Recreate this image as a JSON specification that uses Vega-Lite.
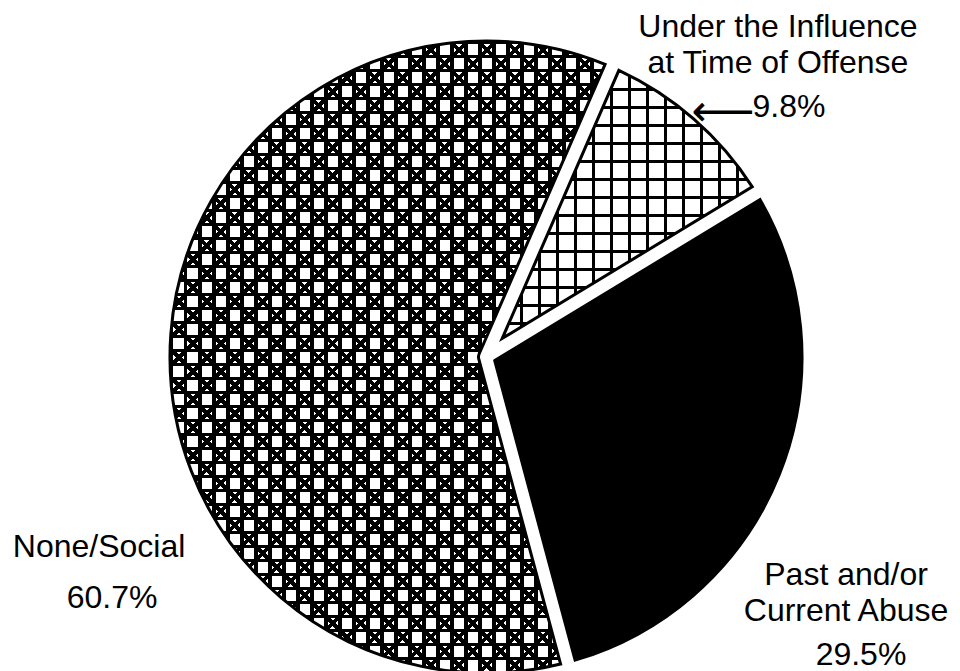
{
 "$schema": "https://vega.github.io/schema/vega-lite/v6.json",
 "width": 948, "height": 628,
 "autosize": "none",
 "padding": {"left": 12, "top": 43, "right": 0, "bottom": 0},
 "background": "white",
 "view": {"stroke": null},
 "data": {"values": [
   {"category": "Under the Influence\nat Time of Offense", "value": 9.8, "pct": "9.8%"},
   {"category": "Past and/or\nCurrent Abuse", "value": 29.5, "pct": "29.5%"},
   {"category": "None/Social", "value": 60.7, "pct": "60.7%"}
 ]},
 "encoding": {
   "theta": {"field": "value", "type": "quantitative", "stack": true, "scale": {"domain": [0, 100], "range": [0.4102, 6.6934]}},
   "order": {"field": "category", "sort": "descending"}
 },
 "layer": [
  {"mark": {"type": "arc", "radius": 316, "radius2": {"expr": "datum.value < 20 ? 24.75 : datum.value < 50 ? 9.4 : 7.5"}, "padAngle": 0.0475},
   "encoding": {"fill": {"condition": {"test": "datum.value > 20 && datum.value < 50", "value": "#000"}, "value": "#fff"}}},
  {"mark": {"type": "arc", "radius": 316, "radius2": {"expr": "datum.value < 20 ? 24.75 : datum.value < 50 ? 9.4 : 7.5"}, "padAngle": 0.0475},
   "encoding": {"fill": {"condition": [{"test": "datum.value < 20", "value": {"gradient": "linear", "x1": 0, "y1": 0, "x2": 1, "y2": 0, "stops": [
     {"offset":0,"color":"#000"},{"offset":0.012,"color":"#000"},{"offset":0.012,"color":"#0000"},
     {"offset":0.072,"color":"#0000"},{"offset":0.072,"color":"#000"},{"offset":0.084,"color":"#000"},{"offset":0.084,"color":"#0000"},
     {"offset":0.144,"color":"#0000"},{"offset":0.144,"color":"#000"},{"offset":0.156,"color":"#000"},{"offset":0.156,"color":"#0000"},
     {"offset":0.216,"color":"#0000"},{"offset":0.216,"color":"#000"},{"offset":0.228,"color":"#000"},{"offset":0.228,"color":"#0000"},
     {"offset":0.288,"color":"#0000"},{"offset":0.288,"color":"#000"},{"offset":0.3,"color":"#000"},{"offset":0.3,"color":"#0000"},
     {"offset":0.36,"color":"#0000"},{"offset":0.36,"color":"#000"},{"offset":0.372,"color":"#000"},{"offset":0.372,"color":"#0000"},
     {"offset":0.432,"color":"#0000"},{"offset":0.432,"color":"#000"},{"offset":0.444,"color":"#000"},{"offset":0.444,"color":"#0000"},
     {"offset":0.504,"color":"#0000"},{"offset":0.504,"color":"#000"},{"offset":0.516,"color":"#000"},{"offset":0.516,"color":"#0000"},
     {"offset":0.576,"color":"#0000"},{"offset":0.576,"color":"#000"},{"offset":0.588,"color":"#000"},{"offset":0.588,"color":"#0000"},
     {"offset":0.648,"color":"#0000"},{"offset":0.648,"color":"#000"},{"offset":0.66,"color":"#000"},{"offset":0.66,"color":"#0000"},
     {"offset":0.72,"color":"#0000"},{"offset":0.72,"color":"#000"},{"offset":0.732,"color":"#000"},{"offset":0.732,"color":"#0000"},
     {"offset":0.792,"color":"#0000"},{"offset":0.792,"color":"#000"},{"offset":0.804,"color":"#000"},{"offset":0.804,"color":"#0000"},
     {"offset":0.864,"color":"#0000"},{"offset":0.864,"color":"#000"},{"offset":0.876,"color":"#000"},{"offset":0.876,"color":"#0000"},
     {"offset":0.936,"color":"#0000"},{"offset":0.936,"color":"#000"},{"offset":0.948,"color":"#000"},{"offset":0.948,"color":"#0000"},
     {"offset":1,"color":"#0000"}]}},
     {"test": "datum.value > 50", "value": {"gradient": "linear", "x1": 0, "y1": 0, "x2": 1, "y2": 0, "stops": [
     {"offset":0,"color":"#000"},{"offset":0.008,"color":"#000"},{"offset":0.008,"color":"#0000"},
     {"offset":0.0322,"color":"#0000"},{"offset":0.0322,"color":"#000"},{"offset":0.0402,"color":"#000"},{"offset":0.0402,"color":"#0000"},
     {"offset":0.0644,"color":"#0000"},{"offset":0.0644,"color":"#000"},{"offset":0.0724,"color":"#000"},{"offset":0.0724,"color":"#0000"},
     {"offset":0.0966,"color":"#0000"},{"offset":0.0966,"color":"#000"},{"offset":0.1046,"color":"#000"},{"offset":0.1046,"color":"#0000"},
     {"offset":0.1288,"color":"#0000"},{"offset":0.1288,"color":"#000"},{"offset":0.1368,"color":"#000"},{"offset":0.1368,"color":"#0000"},
     {"offset":0.161,"color":"#0000"},{"offset":0.161,"color":"#000"},{"offset":0.169,"color":"#000"},{"offset":0.169,"color":"#0000"},
     {"offset":0.1932,"color":"#0000"},{"offset":0.1932,"color":"#000"},{"offset":0.2012,"color":"#000"},{"offset":0.2012,"color":"#0000"},
     {"offset":0.2254,"color":"#0000"},{"offset":0.2254,"color":"#000"},{"offset":0.2334,"color":"#000"},{"offset":0.2334,"color":"#0000"},
     {"offset":0.2576,"color":"#0000"},{"offset":0.2576,"color":"#000"},{"offset":0.2656,"color":"#000"},{"offset":0.2656,"color":"#0000"},
     {"offset":0.2898,"color":"#0000"},{"offset":0.2898,"color":"#000"},{"offset":0.2978,"color":"#000"},{"offset":0.2978,"color":"#0000"},
     {"offset":0.322,"color":"#0000"},{"offset":0.322,"color":"#000"},{"offset":0.33,"color":"#000"},{"offset":0.33,"color":"#0000"},
     {"offset":0.3542,"color":"#0000"},{"offset":0.3542,"color":"#000"},{"offset":0.3622,"color":"#000"},{"offset":0.3622,"color":"#0000"},
     {"offset":0.3864,"color":"#0000"},{"offset":0.3864,"color":"#000"},{"offset":0.3944,"color":"#000"},{"offset":0.3944,"color":"#0000"},
     {"offset":0.4186,"color":"#0000"},{"offset":0.4186,"color":"#000"},{"offset":0.4266,"color":"#000"},{"offset":0.4266,"color":"#0000"},
     {"offset":0.4508,"color":"#0000"},{"offset":0.4508,"color":"#000"},{"offset":0.4588,"color":"#000"},{"offset":0.4588,"color":"#0000"},
     {"offset":0.483,"color":"#0000"},{"offset":0.483,"color":"#000"},{"offset":0.491,"color":"#000"},{"offset":0.491,"color":"#0000"},
     {"offset":0.5152,"color":"#0000"},{"offset":0.5152,"color":"#000"},{"offset":0.5232,"color":"#000"},{"offset":0.5232,"color":"#0000"},
     {"offset":0.5474,"color":"#0000"},{"offset":0.5474,"color":"#000"},{"offset":0.5554,"color":"#000"},{"offset":0.5554,"color":"#0000"},
     {"offset":0.5796,"color":"#0000"},{"offset":0.5796,"color":"#000"},{"offset":0.5876,"color":"#000"},{"offset":0.5876,"color":"#0000"},
     {"offset":0.6118,"color":"#0000"},{"offset":0.6118,"color":"#000"},{"offset":0.6198,"color":"#000"},{"offset":0.6198,"color":"#0000"},
     {"offset":0.644,"color":"#0000"},{"offset":0.644,"color":"#000"},{"offset":0.652,"color":"#000"},{"offset":0.652,"color":"#0000"},
     {"offset":0.6762,"color":"#0000"},{"offset":0.6762,"color":"#000"},{"offset":0.6842,"color":"#000"},{"offset":0.6842,"color":"#0000"},
     {"offset":0.7084,"color":"#0000"},{"offset":0.7084,"color":"#000"},{"offset":0.7164,"color":"#000"},{"offset":0.7164,"color":"#0000"},
     {"offset":0.7406,"color":"#0000"},{"offset":0.7406,"color":"#000"},{"offset":0.7486,"color":"#000"},{"offset":0.7486,"color":"#0000"},
     {"offset":0.7728,"color":"#0000"},{"offset":0.7728,"color":"#000"},{"offset":0.7808,"color":"#000"},{"offset":0.7808,"color":"#0000"},
     {"offset":0.805,"color":"#0000"},{"offset":0.805,"color":"#000"},{"offset":0.813,"color":"#000"},{"offset":0.813,"color":"#0000"},
     {"offset":0.8372,"color":"#0000"},{"offset":0.8372,"color":"#000"},{"offset":0.8452,"color":"#000"},{"offset":0.8452,"color":"#0000"},
     {"offset":0.8694,"color":"#0000"},{"offset":0.8694,"color":"#000"},{"offset":0.8774,"color":"#000"},{"offset":0.8774,"color":"#0000"},
     {"offset":0.9016,"color":"#0000"},{"offset":0.9016,"color":"#000"},{"offset":0.9096,"color":"#000"},{"offset":0.9096,"color":"#0000"},
     {"offset":0.9338,"color":"#0000"},{"offset":0.9338,"color":"#000"},{"offset":0.9418,"color":"#000"},{"offset":0.9418,"color":"#0000"},
     {"offset":0.966,"color":"#0000"},{"offset":0.966,"color":"#000"},{"offset":0.974,"color":"#000"},{"offset":0.974,"color":"#0000"},
     {"offset":0.9982,"color":"#0000"},{"offset":0.9982,"color":"#000"},{"offset":1,"color":"#000"}]}}], "value": "transparent"}}},
  {"mark": {"type": "arc", "radius": 316, "radius2": {"expr": "datum.value < 20 ? 24.75 : datum.value < 50 ? 9.4 : 7.5"}, "padAngle": 0.0475},
   "encoding": {"fill": {"condition": [{"test": "datum.value < 20", "value": {"gradient": "linear", "x1": 0, "y1": 0, "x2": 0, "y2": 1, "stops": [
     {"offset":0,"color":"#000"},{"offset":0.0112,"color":"#000"},{"offset":0.0112,"color":"#0000"},
     {"offset":0.0671,"color":"#0000"},{"offset":0.0671,"color":"#000"},{"offset":0.0783,"color":"#000"},{"offset":0.0783,"color":"#0000"},
     {"offset":0.1343,"color":"#0000"},{"offset":0.1343,"color":"#000"},{"offset":0.1455,"color":"#000"},{"offset":0.1455,"color":"#0000"},
     {"offset":0.2014,"color":"#0000"},{"offset":0.2014,"color":"#000"},{"offset":0.2126,"color":"#000"},{"offset":0.2126,"color":"#0000"},
     {"offset":0.2686,"color":"#0000"},{"offset":0.2686,"color":"#000"},{"offset":0.2798,"color":"#000"},{"offset":0.2798,"color":"#0000"},
     {"offset":0.3357,"color":"#0000"},{"offset":0.3357,"color":"#000"},{"offset":0.3469,"color":"#000"},{"offset":0.3469,"color":"#0000"},
     {"offset":0.4028,"color":"#0000"},{"offset":0.4028,"color":"#000"},{"offset":0.414,"color":"#000"},{"offset":0.414,"color":"#0000"},
     {"offset":0.47,"color":"#0000"},{"offset":0.47,"color":"#000"},{"offset":0.4812,"color":"#000"},{"offset":0.4812,"color":"#0000"},
     {"offset":0.5371,"color":"#0000"},{"offset":0.5371,"color":"#000"},{"offset":0.5483,"color":"#000"},{"offset":0.5483,"color":"#0000"},
     {"offset":0.6043,"color":"#0000"},{"offset":0.6043,"color":"#000"},{"offset":0.6155,"color":"#000"},{"offset":0.6155,"color":"#0000"},
     {"offset":0.6714,"color":"#0000"},{"offset":0.6714,"color":"#000"},{"offset":0.6826,"color":"#000"},{"offset":0.6826,"color":"#0000"},
     {"offset":0.7385,"color":"#0000"},{"offset":0.7385,"color":"#000"},{"offset":0.7497,"color":"#000"},{"offset":0.7497,"color":"#0000"},
     {"offset":0.8057,"color":"#0000"},{"offset":0.8057,"color":"#000"},{"offset":0.8169,"color":"#000"},{"offset":0.8169,"color":"#0000"},
     {"offset":0.8728,"color":"#0000"},{"offset":0.8728,"color":"#000"},{"offset":0.884,"color":"#000"},{"offset":0.884,"color":"#0000"},
     {"offset":0.94,"color":"#0000"},{"offset":0.94,"color":"#000"},{"offset":0.9512,"color":"#000"},{"offset":0.9512,"color":"#0000"},
     {"offset":1,"color":"#0000"}]}},
     {"test": "datum.value > 50", "value": {"gradient": "linear", "x1": 0, "y1": 0, "x2": 0, "y2": 1, "stops": [
     {"offset":0,"color":"#000"},{"offset":0.0055,"color":"#000"},{"offset":0.0055,"color":"#0000"},
     {"offset":0.02215,"color":"#0000"},{"offset":0.02215,"color":"#000"},{"offset":0.02765,"color":"#000"},{"offset":0.02765,"color":"#0000"},
     {"offset":0.0443,"color":"#0000"},{"offset":0.0443,"color":"#000"},{"offset":0.0498,"color":"#000"},{"offset":0.0498,"color":"#0000"},
     {"offset":0.06645,"color":"#0000"},{"offset":0.06645,"color":"#000"},{"offset":0.07195,"color":"#000"},{"offset":0.07195,"color":"#0000"},
     {"offset":0.0886,"color":"#0000"},{"offset":0.0886,"color":"#000"},{"offset":0.0941,"color":"#000"},{"offset":0.0941,"color":"#0000"},
     {"offset":0.11075,"color":"#0000"},{"offset":0.11075,"color":"#000"},{"offset":0.11625,"color":"#000"},{"offset":0.11625,"color":"#0000"},
     {"offset":0.1329,"color":"#0000"},{"offset":0.1329,"color":"#000"},{"offset":0.1384,"color":"#000"},{"offset":0.1384,"color":"#0000"},
     {"offset":0.15505,"color":"#0000"},{"offset":0.15505,"color":"#000"},{"offset":0.16055,"color":"#000"},{"offset":0.16055,"color":"#0000"},
     {"offset":0.1772,"color":"#0000"},{"offset":0.1772,"color":"#000"},{"offset":0.1827,"color":"#000"},{"offset":0.1827,"color":"#0000"},
     {"offset":0.19935,"color":"#0000"},{"offset":0.19935,"color":"#000"},{"offset":0.20485,"color":"#000"},{"offset":0.20485,"color":"#0000"},
     {"offset":0.2215,"color":"#0000"},{"offset":0.2215,"color":"#000"},{"offset":0.227,"color":"#000"},{"offset":0.227,"color":"#0000"},
     {"offset":0.24365,"color":"#0000"},{"offset":0.24365,"color":"#000"},{"offset":0.24915,"color":"#000"},{"offset":0.24915,"color":"#0000"},
     {"offset":0.2658,"color":"#0000"},{"offset":0.2658,"color":"#000"},{"offset":0.2713,"color":"#000"},{"offset":0.2713,"color":"#0000"},
     {"offset":0.28795,"color":"#0000"},{"offset":0.28795,"color":"#000"},{"offset":0.29345,"color":"#000"},{"offset":0.29345,"color":"#0000"},
     {"offset":0.3101,"color":"#0000"},{"offset":0.3101,"color":"#000"},{"offset":0.3156,"color":"#000"},{"offset":0.3156,"color":"#0000"},
     {"offset":0.33225,"color":"#0000"},{"offset":0.33225,"color":"#000"},{"offset":0.33775,"color":"#000"},{"offset":0.33775,"color":"#0000"},
     {"offset":0.3544,"color":"#0000"},{"offset":0.3544,"color":"#000"},{"offset":0.3599,"color":"#000"},{"offset":0.3599,"color":"#0000"},
     {"offset":0.37655,"color":"#0000"},{"offset":0.37655,"color":"#000"},{"offset":0.38205,"color":"#000"},{"offset":0.38205,"color":"#0000"},
     {"offset":0.3987,"color":"#0000"},{"offset":0.3987,"color":"#000"},{"offset":0.4042,"color":"#000"},{"offset":0.4042,"color":"#0000"},
     {"offset":0.42085,"color":"#0000"},{"offset":0.42085,"color":"#000"},{"offset":0.42635,"color":"#000"},{"offset":0.42635,"color":"#0000"},
     {"offset":0.443,"color":"#0000"},{"offset":0.443,"color":"#000"},{"offset":0.4485,"color":"#000"},{"offset":0.4485,"color":"#0000"},
     {"offset":0.46515,"color":"#0000"},{"offset":0.46515,"color":"#000"},{"offset":0.47065,"color":"#000"},{"offset":0.47065,"color":"#0000"},
     {"offset":0.4873,"color":"#0000"},{"offset":0.4873,"color":"#000"},{"offset":0.4928,"color":"#000"},{"offset":0.4928,"color":"#0000"},
     {"offset":0.50945,"color":"#0000"},{"offset":0.50945,"color":"#000"},{"offset":0.51495,"color":"#000"},{"offset":0.51495,"color":"#0000"},
     {"offset":0.5316,"color":"#0000"},{"offset":0.5316,"color":"#000"},{"offset":0.5371,"color":"#000"},{"offset":0.5371,"color":"#0000"},
     {"offset":0.55375,"color":"#0000"},{"offset":0.55375,"color":"#000"},{"offset":0.55925,"color":"#000"},{"offset":0.55925,"color":"#0000"},
     {"offset":0.5759,"color":"#0000"},{"offset":0.5759,"color":"#000"},{"offset":0.5814,"color":"#000"},{"offset":0.5814,"color":"#0000"},
     {"offset":0.59805,"color":"#0000"},{"offset":0.59805,"color":"#000"},{"offset":0.60355,"color":"#000"},{"offset":0.60355,"color":"#0000"},
     {"offset":0.6202,"color":"#0000"},{"offset":0.6202,"color":"#000"},{"offset":0.6257,"color":"#000"},{"offset":0.6257,"color":"#0000"},
     {"offset":0.64235,"color":"#0000"},{"offset":0.64235,"color":"#000"},{"offset":0.64785,"color":"#000"},{"offset":0.64785,"color":"#0000"},
     {"offset":0.6645,"color":"#0000"},{"offset":0.6645,"color":"#000"},{"offset":0.67,"color":"#000"},{"offset":0.67,"color":"#0000"},
     {"offset":0.68665,"color":"#0000"},{"offset":0.68665,"color":"#000"},{"offset":0.69215,"color":"#000"},{"offset":0.69215,"color":"#0000"},
     {"offset":0.7088,"color":"#0000"},{"offset":0.7088,"color":"#000"},{"offset":0.7143,"color":"#000"},{"offset":0.7143,"color":"#0000"},
     {"offset":0.73095,"color":"#0000"},{"offset":0.73095,"color":"#000"},{"offset":0.73645,"color":"#000"},{"offset":0.73645,"color":"#0000"},
     {"offset":0.7531,"color":"#0000"},{"offset":0.7531,"color":"#000"},{"offset":0.7586,"color":"#000"},{"offset":0.7586,"color":"#0000"},
     {"offset":0.77525,"color":"#0000"},{"offset":0.77525,"color":"#000"},{"offset":0.78075,"color":"#000"},{"offset":0.78075,"color":"#0000"},
     {"offset":0.7974,"color":"#0000"},{"offset":0.7974,"color":"#000"},{"offset":0.8029,"color":"#000"},{"offset":0.8029,"color":"#0000"},
     {"offset":0.81955,"color":"#0000"},{"offset":0.81955,"color":"#000"},{"offset":0.82505,"color":"#000"},{"offset":0.82505,"color":"#0000"},
     {"offset":0.8417,"color":"#0000"},{"offset":0.8417,"color":"#000"},{"offset":0.8472,"color":"#000"},{"offset":0.8472,"color":"#0000"},
     {"offset":0.86385,"color":"#0000"},{"offset":0.86385,"color":"#000"},{"offset":0.86935,"color":"#000"},{"offset":0.86935,"color":"#0000"},
     {"offset":0.886,"color":"#0000"},{"offset":0.886,"color":"#000"},{"offset":0.8915,"color":"#000"},{"offset":0.8915,"color":"#0000"},
     {"offset":0.90815,"color":"#0000"},{"offset":0.90815,"color":"#000"},{"offset":0.91365,"color":"#000"},{"offset":0.91365,"color":"#0000"},
     {"offset":0.9303,"color":"#0000"},{"offset":0.9303,"color":"#000"},{"offset":0.9358,"color":"#000"},{"offset":0.9358,"color":"#0000"},
     {"offset":0.95245,"color":"#0000"},{"offset":0.95245,"color":"#000"},{"offset":0.95795,"color":"#000"},{"offset":0.95795,"color":"#0000"},
     {"offset":0.9746,"color":"#0000"},{"offset":0.9746,"color":"#000"},{"offset":0.9801,"color":"#000"},{"offset":0.9801,"color":"#0000"},
     {"offset":0.99675,"color":"#0000"},{"offset":0.99675,"color":"#000"},{"offset":1,"color":"#000"}]}}], "value": "transparent"}}},
  {"mark": {"type": "arc", "radius": 316, "radius2": {"expr": "datum.value < 20 ? 24.75 : datum.value < 50 ? 9.4 : 7.5"}, "padAngle": 0.0475},
   "encoding": {"fill": {"condition": {"test": "datum.value > 50", "value": {"gradient": "linear", "x1": 0, "y1": 1, "x2": 0.7886, "y2": -0.1455, "stops": [
     {"offset":0,"color":"#0000"},
     {"offset":0.01312,"color":"#0000"},{"offset":0.01312,"color":"#000"},{"offset":0.01782,"color":"#000"},{"offset":0.01782,"color":"#0000"},
     {"offset":0.03936,"color":"#0000"},{"offset":0.03936,"color":"#000"},{"offset":0.04406,"color":"#000"},{"offset":0.04406,"color":"#0000"},
     {"offset":0.0656,"color":"#0000"},{"offset":0.0656,"color":"#000"},{"offset":0.0703,"color":"#000"},{"offset":0.0703,"color":"#0000"},
     {"offset":0.09184,"color":"#0000"},{"offset":0.09184,"color":"#000"},{"offset":0.09654,"color":"#000"},{"offset":0.09654,"color":"#0000"},
     {"offset":0.11808,"color":"#0000"},{"offset":0.11808,"color":"#000"},{"offset":0.12278,"color":"#000"},{"offset":0.12278,"color":"#0000"},
     {"offset":0.14432,"color":"#0000"},{"offset":0.14432,"color":"#000"},{"offset":0.14902,"color":"#000"},{"offset":0.14902,"color":"#0000"},
     {"offset":0.17055,"color":"#0000"},{"offset":0.17055,"color":"#000"},{"offset":0.17525,"color":"#000"},{"offset":0.17525,"color":"#0000"},
     {"offset":0.19679,"color":"#0000"},{"offset":0.19679,"color":"#000"},{"offset":0.20149,"color":"#000"},{"offset":0.20149,"color":"#0000"},
     {"offset":0.22303,"color":"#0000"},{"offset":0.22303,"color":"#000"},{"offset":0.22773,"color":"#000"},{"offset":0.22773,"color":"#0000"},
     {"offset":0.24927,"color":"#0000"},{"offset":0.24927,"color":"#000"},{"offset":0.25397,"color":"#000"},{"offset":0.25397,"color":"#0000"},
     {"offset":0.27551,"color":"#0000"},{"offset":0.27551,"color":"#000"},{"offset":0.28021,"color":"#000"},{"offset":0.28021,"color":"#0000"},
     {"offset":0.30175,"color":"#0000"},{"offset":0.30175,"color":"#000"},{"offset":0.30645,"color":"#000"},{"offset":0.30645,"color":"#0000"},
     {"offset":0.32799,"color":"#0000"},{"offset":0.32799,"color":"#000"},{"offset":0.33269,"color":"#000"},{"offset":0.33269,"color":"#0000"},
     {"offset":0.35423,"color":"#0000"},{"offset":0.35423,"color":"#000"},{"offset":0.35893,"color":"#000"},{"offset":0.35893,"color":"#0000"},
     {"offset":0.38047,"color":"#0000"},{"offset":0.38047,"color":"#000"},{"offset":0.38517,"color":"#000"},{"offset":0.38517,"color":"#0000"},
     {"offset":0.40671,"color":"#0000"},{"offset":0.40671,"color":"#000"},{"offset":0.41141,"color":"#000"},{"offset":0.41141,"color":"#0000"},
     {"offset":0.43294,"color":"#0000"},{"offset":0.43294,"color":"#000"},{"offset":0.43764,"color":"#000"},{"offset":0.43764,"color":"#0000"},
     {"offset":0.45918,"color":"#0000"},{"offset":0.45918,"color":"#000"},{"offset":0.46388,"color":"#000"},{"offset":0.46388,"color":"#0000"},
     {"offset":0.48542,"color":"#0000"},{"offset":0.48542,"color":"#000"},{"offset":0.49012,"color":"#000"},{"offset":0.49012,"color":"#0000"},
     {"offset":0.51166,"color":"#0000"},{"offset":0.51166,"color":"#000"},{"offset":0.51636,"color":"#000"},{"offset":0.51636,"color":"#0000"},
     {"offset":0.5379,"color":"#0000"},{"offset":0.5379,"color":"#000"},{"offset":0.5426,"color":"#000"},{"offset":0.5426,"color":"#0000"},
     {"offset":0.56414,"color":"#0000"},{"offset":0.56414,"color":"#000"},{"offset":0.56884,"color":"#000"},{"offset":0.56884,"color":"#0000"},
     {"offset":0.59038,"color":"#0000"},{"offset":0.59038,"color":"#000"},{"offset":0.59508,"color":"#000"},{"offset":0.59508,"color":"#0000"},
     {"offset":0.61662,"color":"#0000"},{"offset":0.61662,"color":"#000"},{"offset":0.62132,"color":"#000"},{"offset":0.62132,"color":"#0000"},
     {"offset":0.64286,"color":"#0000"},{"offset":0.64286,"color":"#000"},{"offset":0.64756,"color":"#000"},{"offset":0.64756,"color":"#0000"},
     {"offset":0.6691,"color":"#0000"},{"offset":0.6691,"color":"#000"},{"offset":0.6738,"color":"#000"},{"offset":0.6738,"color":"#0000"},
     {"offset":0.69533,"color":"#0000"},{"offset":0.69533,"color":"#000"},{"offset":0.70003,"color":"#000"},{"offset":0.70003,"color":"#0000"},
     {"offset":0.72157,"color":"#0000"},{"offset":0.72157,"color":"#000"},{"offset":0.72627,"color":"#000"},{"offset":0.72627,"color":"#0000"},
     {"offset":0.74781,"color":"#0000"},{"offset":0.74781,"color":"#000"},{"offset":0.75251,"color":"#000"},{"offset":0.75251,"color":"#0000"},
     {"offset":0.77405,"color":"#0000"},{"offset":0.77405,"color":"#000"},{"offset":0.77875,"color":"#000"},{"offset":0.77875,"color":"#0000"},
     {"offset":0.80029,"color":"#0000"},{"offset":0.80029,"color":"#000"},{"offset":0.80499,"color":"#000"},{"offset":0.80499,"color":"#0000"},
     {"offset":0.82653,"color":"#0000"},{"offset":0.82653,"color":"#000"},{"offset":0.83123,"color":"#000"},{"offset":0.83123,"color":"#0000"},
     {"offset":0.85277,"color":"#0000"},{"offset":0.85277,"color":"#000"},{"offset":0.85747,"color":"#000"},{"offset":0.85747,"color":"#0000"},
     {"offset":0.87901,"color":"#0000"},{"offset":0.87901,"color":"#000"},{"offset":0.88371,"color":"#000"},{"offset":0.88371,"color":"#0000"},
     {"offset":0.90525,"color":"#0000"},{"offset":0.90525,"color":"#000"},{"offset":0.90995,"color":"#000"},{"offset":0.90995,"color":"#0000"},
     {"offset":0.93149,"color":"#0000"},{"offset":0.93149,"color":"#000"},{"offset":0.93619,"color":"#000"},{"offset":0.93619,"color":"#0000"},
     {"offset":0.95772,"color":"#0000"},{"offset":0.95772,"color":"#000"},{"offset":0.96242,"color":"#000"},{"offset":0.96242,"color":"#0000"},
     {"offset":0.98396,"color":"#0000"},{"offset":0.98396,"color":"#000"},{"offset":0.98866,"color":"#000"},{"offset":0.98866,"color":"#0000"},
     {"offset":1,"color":"#0000"}]}}, "value": "transparent"}}},
  {"mark": {"type": "arc", "radius": 316, "radius2": {"expr": "datum.value < 20 ? 24.75 : datum.value < 50 ? 9.4 : 7.5"}, "padAngle": 0.0475},
   "encoding": {"fill": {"condition": {"test": "datum.value > 50", "value": {"gradient": "linear", "x1": 0, "y1": 0, "x2": 0.7886, "y2": 1.1455, "stops": [
     {"offset":0,"color":"#0000"},
     {"offset":0.01406,"color":"#0000"},{"offset":0.01406,"color":"#000"},{"offset":0.01876,"color":"#000"},{"offset":0.01876,"color":"#0000"},
     {"offset":0.0403,"color":"#0000"},{"offset":0.0403,"color":"#000"},{"offset":0.045,"color":"#000"},{"offset":0.045,"color":"#0000"},
     {"offset":0.06654,"color":"#0000"},{"offset":0.06654,"color":"#000"},{"offset":0.07124,"color":"#000"},{"offset":0.07124,"color":"#0000"},
     {"offset":0.09278,"color":"#0000"},{"offset":0.09278,"color":"#000"},{"offset":0.09748,"color":"#000"},{"offset":0.09748,"color":"#0000"},
     {"offset":0.11902,"color":"#0000"},{"offset":0.11902,"color":"#000"},{"offset":0.12372,"color":"#000"},{"offset":0.12372,"color":"#0000"},
     {"offset":0.14526,"color":"#0000"},{"offset":0.14526,"color":"#000"},{"offset":0.14996,"color":"#000"},{"offset":0.14996,"color":"#0000"},
     {"offset":0.17149,"color":"#0000"},{"offset":0.17149,"color":"#000"},{"offset":0.17619,"color":"#000"},{"offset":0.17619,"color":"#0000"},
     {"offset":0.19773,"color":"#0000"},{"offset":0.19773,"color":"#000"},{"offset":0.20243,"color":"#000"},{"offset":0.20243,"color":"#0000"},
     {"offset":0.22397,"color":"#0000"},{"offset":0.22397,"color":"#000"},{"offset":0.22867,"color":"#000"},{"offset":0.22867,"color":"#0000"},
     {"offset":0.25021,"color":"#0000"},{"offset":0.25021,"color":"#000"},{"offset":0.25491,"color":"#000"},{"offset":0.25491,"color":"#0000"},
     {"offset":0.27645,"color":"#0000"},{"offset":0.27645,"color":"#000"},{"offset":0.28115,"color":"#000"},{"offset":0.28115,"color":"#0000"},
     {"offset":0.30269,"color":"#0000"},{"offset":0.30269,"color":"#000"},{"offset":0.30739,"color":"#000"},{"offset":0.30739,"color":"#0000"},
     {"offset":0.32893,"color":"#0000"},{"offset":0.32893,"color":"#000"},{"offset":0.33363,"color":"#000"},{"offset":0.33363,"color":"#0000"},
     {"offset":0.35517,"color":"#0000"},{"offset":0.35517,"color":"#000"},{"offset":0.35987,"color":"#000"},{"offset":0.35987,"color":"#0000"},
     {"offset":0.38141,"color":"#0000"},{"offset":0.38141,"color":"#000"},{"offset":0.38611,"color":"#000"},{"offset":0.38611,"color":"#0000"},
     {"offset":0.40765,"color":"#0000"},{"offset":0.40765,"color":"#000"},{"offset":0.41235,"color":"#000"},{"offset":0.41235,"color":"#0000"},
     {"offset":0.43388,"color":"#0000"},{"offset":0.43388,"color":"#000"},{"offset":0.43858,"color":"#000"},{"offset":0.43858,"color":"#0000"},
     {"offset":0.46012,"color":"#0000"},{"offset":0.46012,"color":"#000"},{"offset":0.46482,"color":"#000"},{"offset":0.46482,"color":"#0000"},
     {"offset":0.48636,"color":"#0000"},{"offset":0.48636,"color":"#000"},{"offset":0.49106,"color":"#000"},{"offset":0.49106,"color":"#0000"},
     {"offset":0.5126,"color":"#0000"},{"offset":0.5126,"color":"#000"},{"offset":0.5173,"color":"#000"},{"offset":0.5173,"color":"#0000"},
     {"offset":0.53884,"color":"#0000"},{"offset":0.53884,"color":"#000"},{"offset":0.54354,"color":"#000"},{"offset":0.54354,"color":"#0000"},
     {"offset":0.56508,"color":"#0000"},{"offset":0.56508,"color":"#000"},{"offset":0.56978,"color":"#000"},{"offset":0.56978,"color":"#0000"},
     {"offset":0.59132,"color":"#0000"},{"offset":0.59132,"color":"#000"},{"offset":0.59602,"color":"#000"},{"offset":0.59602,"color":"#0000"},
     {"offset":0.61756,"color":"#0000"},{"offset":0.61756,"color":"#000"},{"offset":0.62226,"color":"#000"},{"offset":0.62226,"color":"#0000"},
     {"offset":0.6438,"color":"#0000"},{"offset":0.6438,"color":"#000"},{"offset":0.6485,"color":"#000"},{"offset":0.6485,"color":"#0000"},
     {"offset":0.67004,"color":"#0000"},{"offset":0.67004,"color":"#000"},{"offset":0.67474,"color":"#000"},{"offset":0.67474,"color":"#0000"},
     {"offset":0.69627,"color":"#0000"},{"offset":0.69627,"color":"#000"},{"offset":0.70097,"color":"#000"},{"offset":0.70097,"color":"#0000"},
     {"offset":0.72251,"color":"#0000"},{"offset":0.72251,"color":"#000"},{"offset":0.72721,"color":"#000"},{"offset":0.72721,"color":"#0000"},
     {"offset":0.74875,"color":"#0000"},{"offset":0.74875,"color":"#000"},{"offset":0.75345,"color":"#000"},{"offset":0.75345,"color":"#0000"},
     {"offset":0.77499,"color":"#0000"},{"offset":0.77499,"color":"#000"},{"offset":0.77969,"color":"#000"},{"offset":0.77969,"color":"#0000"},
     {"offset":0.80123,"color":"#0000"},{"offset":0.80123,"color":"#000"},{"offset":0.80593,"color":"#000"},{"offset":0.80593,"color":"#0000"},
     {"offset":0.82747,"color":"#0000"},{"offset":0.82747,"color":"#000"},{"offset":0.83217,"color":"#000"},{"offset":0.83217,"color":"#0000"},
     {"offset":0.85371,"color":"#0000"},{"offset":0.85371,"color":"#000"},{"offset":0.85841,"color":"#000"},{"offset":0.85841,"color":"#0000"},
     {"offset":0.87995,"color":"#0000"},{"offset":0.87995,"color":"#000"},{"offset":0.88465,"color":"#000"},{"offset":0.88465,"color":"#0000"},
     {"offset":0.90619,"color":"#0000"},{"offset":0.90619,"color":"#000"},{"offset":0.91089,"color":"#000"},{"offset":0.91089,"color":"#0000"},
     {"offset":0.93243,"color":"#0000"},{"offset":0.93243,"color":"#000"},{"offset":0.93713,"color":"#000"},{"offset":0.93713,"color":"#0000"},
     {"offset":0.95866,"color":"#0000"},{"offset":0.95866,"color":"#000"},{"offset":0.96336,"color":"#000"},{"offset":0.96336,"color":"#0000"},
     {"offset":0.9849,"color":"#0000"},{"offset":0.9849,"color":"#000"},{"offset":0.9896,"color":"#000"},{"offset":0.9896,"color":"#0000"},
     {"offset":1,"color":"#0000"}]}}, "value": "transparent"}}},
  {"mark": {"type": "arc", "radius": 316, "radius2": {"expr": "datum.value < 20 ? 24.75 : datum.value < 50 ? 9.4 : 7.5"}, "padAngle": 0.0475, "fill": "transparent", "stroke": "#000", "strokeWidth": 3}},
  {"mark": {"type": "text", "font": "Liberation Sans", "fontSize": 32, "baseline": "top", "align": "center", "lineBreak": "\n", "lineHeight": 36, "fill": "#000",
     "radius": {"expr": "datum.value < 20 ? 452 : datum.value < 50 ? 413.3 : 424.7"},
     "thetaOffset": {"expr": "datum.value < 20 ? -0.0159 : datum.value < 50 ? 0.1312 : -0.4988"}},
   "encoding": {"text": {"field": "category"}}},
  {"mark": {"type": "text", "font": "Liberation Sans", "fontSize": 32, "baseline": "top", "align": "center", "fill": "#000",
     "radius": {"expr": "datum.value < 20 ? 402.5 : datum.value < 50 ? 469.8 : 437"},
     "thetaOffset": {"expr": "datum.value < 20 ? 0.134 : datum.value < 50 ? 0.2646 : -0.6177"}},
   "encoding": {"text": {"field": "pct"}}},
  {"transform": [{"filter": "datum.value < 20"}],
   "mark": {"type": "text", "font": "DejaVu Sans", "fontSize": 44, "baseline": "middle", "align": "center", "fill": "#000", "radius": 340.2, "thetaOffset": 0.0527},
   "encoding": {"text": {"value": "⟵"}}}
 ]
}
